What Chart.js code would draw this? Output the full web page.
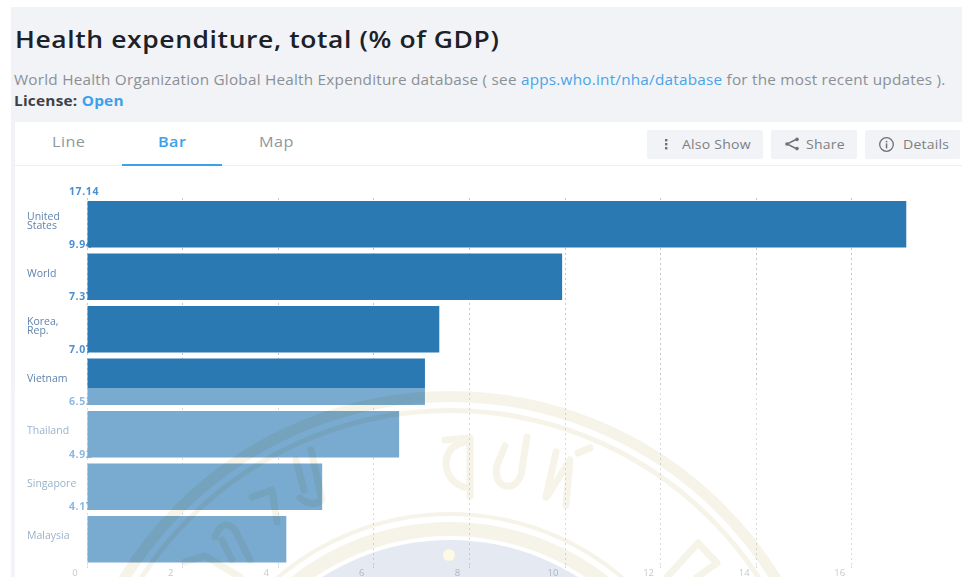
<!DOCTYPE html>
<html>
<head>
<meta charset="utf-8">
<title>Health expenditure, total (% of GDP)</title>
<script src="https://cdn.jsdelivr.net/npm/chart.js@4/dist/chart.umd.min.js"></script>
<style>
    html, body { margin: 0; padding: 0; background: #fff; overflow: hidden; }
    body { width: 962px; height: 577px; position: relative; font-family: "Open Sans", sans-serif; }
    .abs { position: absolute; white-space: nowrap; }
    .wide { transform-origin: left center; }
    #panel { left: 11px; top: 7px; width: 951px; height: 570px; background: #f1f3f7; }
    #card { left: 15px; top: 122px; width: 947px; height: 455px; background: #fff; }
    #tabLine { left: 15px; top: 165px; width: 947px; height: 1px; background: #eceef1; }
    #tabMark { left: 122px; top: 164px; width: 100px; height: 2px; background: #3ba1e8; }
    #title { left: 15px; top: 23px; font-size: 24px; font-weight: 600; line-height: 32px; color: #1c2127; letter-spacing: 0.55px; transform: scaleX(1.102); }
    #source { left: 14px; top: 70px; font-size: 14px; line-height: 19px; color: #8b9095; letter-spacing: 0.2px; transform: scaleX(1.094); }
    #source a { color: #4aa3e8; text-decoration: none; }
    #license { left: 14px; top: 92px; font-size: 14px; font-weight: 700; line-height: 18px; color: #3c4148; letter-spacing: 0.2px; transform: scaleX(1.1); }
    #license span { color: #3da0ee; }
    .tab { top: 132px; font-size: 15px; line-height: 19px; font-weight: 400; color: #8e979e; letter-spacing: 0.4px; transform: scaleX(1.08); }
    .button { top: 130px; height: 29px; background: #f1f3f6; border-radius: 2px; color: #7b8086; font-size: 13px; line-height: 28px; box-sizing: border-box; letter-spacing: 0.2px; }
    .button svg { position: absolute; top: 6px; }
    .button span { position: absolute; top: 0; transform: scaleX(1.08); transform-origin: left center; }
    #chartBox { left: 14px; top: 166px; width: 948px; height: 411px; }
    canvas { display: block; }
</style>
</head>
<body>
<div class="abs" id="panel"></div>
<div class="abs" id="card"></div>
<div class="abs wide" id="title">Health expenditure, total (% of GDP)</div>
<div class="abs wide" id="source">World Health Organization Global Health Expenditure database ( see <a>apps.who.int/nha/database</a> for the most recent updates ).</div>
<div class="abs wide" id="license">License: <span>Open</span></div>

<div class="abs tab wide" style="left:52px">Line</div>
<div class="abs tab wide" style="left:158px;color:#3da0ee;font-weight:600">Bar</div>
<div class="abs tab wide" style="left:259px">Map</div>
<div class="abs" id="tabLine"></div>
<div class="abs" id="tabMark"></div>

<div class="abs button" style="left:647px;width:116px">
    <svg style="left:15px" width="10" height="16"><g fill="#6d7278"><rect x="3" y="3" width="2.4" height="2.4"/><rect x="3" y="7" width="2.4" height="2.4"/><rect x="3" y="11" width="2.4" height="2.4"/></g></svg>
    <span style="left:35px">Also Show</span>
</div>
<div class="abs button" style="left:771px;width:86px">
    <svg style="left:13px" width="16" height="16"><path d="M13 3 L3 8 L13 13" fill="none" stroke="#6d7278" stroke-width="1.4"/><circle cx="13" cy="3.4" r="1.8" fill="#6d7278"/><circle cx="3" cy="8" r="1.8" fill="#6d7278"/><circle cx="13" cy="12.6" r="1.8" fill="#6d7278"/></svg>
    <span style="left:35px">Share</span>
</div>
<div class="abs button" style="left:865px;width:95px">
    <svg style="left:13px" width="17" height="17"><circle cx="8.5" cy="8.5" r="6.8" fill="none" stroke="#6d7278" stroke-width="1.3"/><rect x="7.8" y="7.4" width="1.5" height="5" fill="#6d7278"/><rect x="7.8" y="4.8" width="1.5" height="1.6" fill="#6d7278"/></svg>
    <span style="left:38px">Details</span>
</div>

<div class="abs" id="chartBox"><canvas id="expenditureChart" width="948" height="411"></canvas></div>

<script>
// Health expenditure by country, % of GDP
const countries = [['United', 'States'], 'World', ['Korea,', 'Rep.'], 'Vietnam', 'Thailand', 'Singapore', 'Malaysia'];
const expenditure = [17.14, 9.94, 7.37, 7.07, 6.53, 4.92, 4.17];
const xTicks = [0, 2, 4, 6, 8, 10, 12, 14, 16];
const xAxisMax = 18;

const barColor = '#2b79b3';
const valueColor = '#4b8fd0';
const labelColor = '#5f84ae';

// Values sit just above each bar and run in behind it, so the bar cuts them off
const valueLabels = {
    id: 'valueLabels',
    beforeDatasetsDraw(chart) {
        const ctx = chart.ctx;
        const bars = chart.getDatasetMeta(0).data;
        const left = chart.scales.x.getPixelForValue(0) - 18;
        ctx.save();
        ctx.font = '700 10.5px "Open Sans"';
        ctx.letterSpacing = '0.6px';
        ctx.fillStyle = valueColor;
        ctx.textAlign = 'left';
        ctx.textBaseline = 'middle';
        bars.forEach(function(bar, i) {
            const top = bar.y - bar.height / 2;
            ctx.fillText(expenditure[i].toFixed(2), left, top - 8.5);
        });
        ctx.restore();
    }
};

// Faded university seal laid over the lower part of the page
const sealOverlay = {
    id: 'sealOverlay',
    afterDraw(chart) {
        const ctx = chart.ctx;
        const box = chart.canvas.getBoundingClientRect();
        const cx = 450, cy = 779;
        const cream = '#f6f3e9';

        ctx.save();
        ctx.translate(-box.left, -box.top);
        ctx.fillStyle = 'rgba(255, 255, 255, 0.37)';
        ctx.fillRect(box.left, 388, box.width, 189);

        // the tint darkens whatever it crosses, bars included
        ctx.globalCompositeOperation = 'multiply';
        ctx.strokeStyle = cream;
        [[382.5, 11], [368.5, 5], [265, 4], [250, 14]].forEach(function(ring) {
            ctx.beginPath();
            ctx.lineWidth = ring[1];
            ctx.arc(cx, cy, ring[0], 0, Math.PI * 2);
            ctx.stroke();
        });

        ctx.beginPath();
        ctx.arc(cx, cy, 239, 0, Math.PI * 2);
        ctx.fillStyle = '#e4e9f2';
        ctx.fill();

        // lettering around the seal, as loose brush strokes
        const strokes = [
            'M445 440 L470 438 L470 496 M470 441 Q446 444 446 464 Q448 484 468 488',
            'M527 437 L521 475 Q515 490 503 485 Q494 480 497 465 L505 446',
            'M556 452 L546 497 M548 495 L570 460 L566 505 M590 448 L578 453',
            'M311 450 L322 500 Q312 508 300 498 M296 460 L304 490',
            'M252 497 L272 490 L277 522',
            'M215 537 Q223 517 235 530 L250 560 M222 540 L232 560',
            'M185 562 L205 556 L240 577',
            'M667 577 L698 543 L717 563 L697 577'
        ];
        ctx.lineWidth = 7;
        ctx.lineCap = 'round';
        ctx.lineJoin = 'round';
        strokes.forEach(function(d) {
            ctx.stroke(new Path2D(d));
        });

        ctx.globalCompositeOperation = 'source-over';
        ctx.beginPath();
        ctx.arc(449, 555, 6, 0, Math.PI * 2);
        ctx.fillStyle = 'rgba(255, 250, 225, 0.95)';
        ctx.fill();
        ctx.restore();
    }
};

document.addEventListener('DOMContentLoaded', function() {
    new Chart(document.getElementById('expenditureChart'), {
        type: 'bar',
        data: {
            labels: countries,
            datasets: [{
                data: expenditure,
                backgroundColor: barColor,
                categoryPercentage: 1,
                barPercentage: 0.886
            }]
        },
        plugins: [valueLabels, sealOverlay],
        options: {
            indexAxis: 'y',
            responsive: false,
            animation: false,
            layout: { padding: { left: 13, right: 14.6, top: 32, bottom: 0 } },
            plugins: {
                legend: { display: false },
                title: { display: false },
                tooltip: { enabled: false }
            },
            scales: {
                x: {
                    min: 0,
                    max: xAxisMax,
                    border: { display: false, dash: [2, 3] },
                    grid: { color: '#c4c6ca', lineWidth: 1, tickLength: 3, tickColor: '#c4c6ca', tickBorderDash: [2, 3] },
                    ticks: {
                        color: '#a4a8ad',
                        font: { family: '"Open Sans"', size: 9.5 },
                        labelOffset: -12,
                        padding: -1,
                        maxRotation: 0
                    },
                    // ticks stop at 16, the scale runs on past it
                    afterBuildTicks(axis) {
                        axis.ticks = xTicks.map(function(v) { return { value: v }; });
                    },
                    afterFit(axis) { axis.height = 11.5; }
                },
                y: {
                    border: { display: false },
                    grid: { display: false },
                    ticks: {
                        color: labelColor,
                        font: { family: '"Open Sans"', size: 10.5, lineHeight: 0.9 },
                        crossAlign: 'far',
                        labelOffset: -3,
                        padding: 0
                    },
                    afterFit(axis) { axis.width = 60; }
                }
            }
        }
    });
});
</script>
</body>
</html>
